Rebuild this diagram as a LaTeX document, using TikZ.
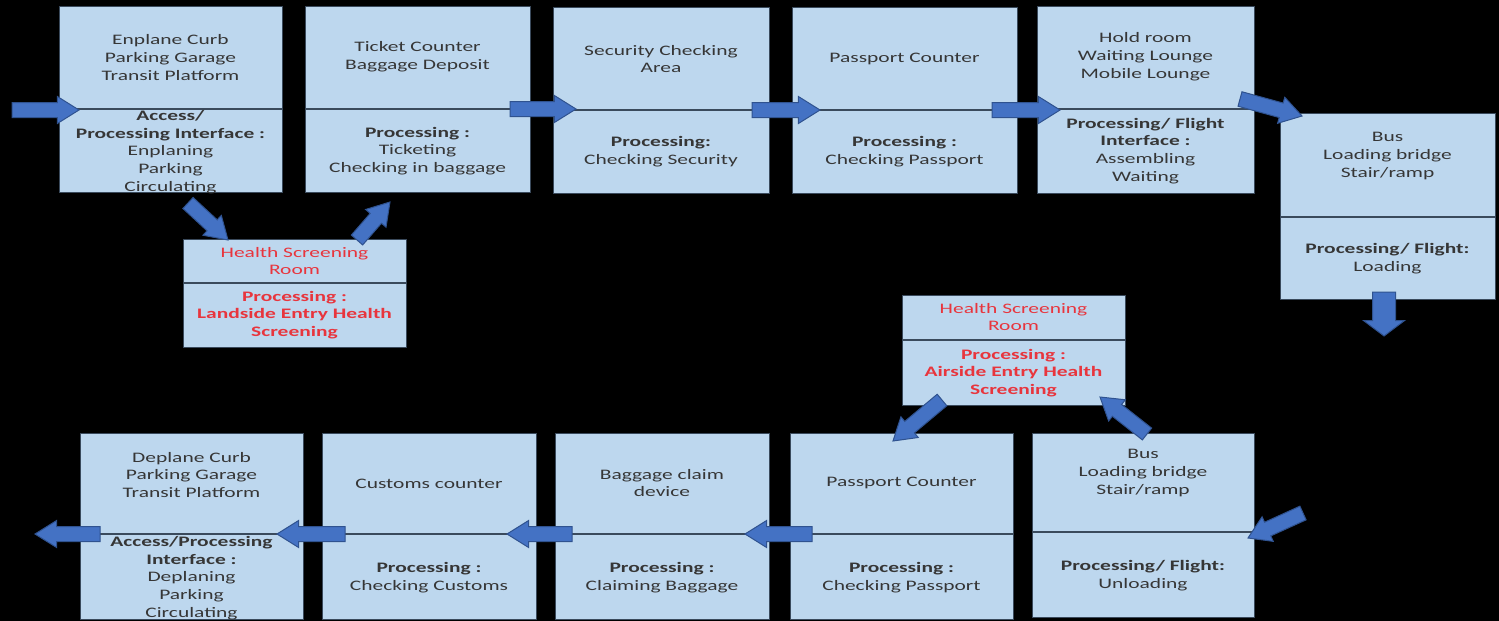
\documentclass[tikz,border=0pt]{standalone}
\usepackage{fontspec}
\setmainfont{Carlito}[FakeStretch=1.48]
\usetikzlibrary{shapes.arrows,calc}
\definecolor{boxfill}{HTML}{BDD7EE}
\definecolor{boxedge}{HTML}{3A4A5C}
\definecolor{txtgray}{HTML}{363636}
\definecolor{txtred}{HTML}{E8353D}
\definecolor{arrfill}{HTML}{4472C4}
\definecolor{arredge}{HTML}{2F528F}
\newcommand\B[1]{\textbf{#1}}
\newcommand\blockarrow[3][]{%
  \path let \p1=(#2), \p2=(#3), \n1={atan2(\y2-\y1,\x2-\x1)}, \n2={veclen(\x2-\x1,\y2-\y1)} in
    node[barrow, #1, minimum height=\n2, rotate=\n1, anchor=tip] at (\p2) {};}
\newcommand\procbox[6]{% name, x1, y1, x2, y2, divider y
  \node[procrect, minimum width={#4-#2}, minimum height={#5-#3}, anchor=north west] (#1) at (#2,#3) {};
  \draw[divline] (#2,#6) -- (#4,#6);}
\tikzset{
  procrect/.style={draw=boxedge, line width=1pt, fill=boxfill, inner sep=0pt, outer sep=0pt},
  divline/.style={draw=boxedge, line width=1.3pt},
  txt/.style={align=center, inner sep=0pt, text=txtgray, font=\fontsize{14.5}{17.8}\selectfont},
  redtxt/.style={txt, text=txtred},
  barrow/.style={single arrow, draw=arredge, line width=1pt, fill=arrfill, inner xsep=0pt,
    inner ysep=7pt, outer sep=0pt, minimum width=0pt, single arrow head extend=6pt, single arrow tip angle=64},
  bigarrow/.style={inner ysep=11pt, single arrow head extend=9pt, single arrow tip angle=106}
}
\begin{document}
\begin{tikzpicture}[x=1pt,y=-1pt]
\useasboundingbox (0,0) rectangle (1499,621);
\fill[black] (0,0) rectangle (1499,621);
% top row
\procbox{b1}{59}{6}{282}{192}{109}
\procbox{b2}{305}{6}{530}{192}{109}
\procbox{b3}{553}{7}{769}{193}{110}
\procbox{b4}{792}{7}{1017}{193}{110}
\procbox{b5}{1037}{6}{1254}{193}{109}
\procbox{b6}{1280}{113}{1495}{299}{217}
\procbox{h1}{183}{239}{406}{347}{283}
\procbox{h2}{902}{295}{1125}{405}{340}
% bottom row
\procbox{d1}{80}{433}{303}{619}{534}
\procbox{d2}{322}{433}{536}{619}{534}
\procbox{d3}{555}{433}{769}{619}{534}
\procbox{d4}{790}{433}{1013}{619}{534}
\procbox{d5}{1032}{433}{1254}{617}{532}
% texts
\node[txt] (b1t) at (170.5,57.5) {Enplane Curb\\Parking Garage\\Transit Platform};
\node[txt] (b1b) at (170.5,152) {\B{Access/}\\\B{Processing Interface :}\\Enplaning\\Parking\\Circulating};
\node[txt] (b2t) at (417.5,57) {Ticket Counter\\Baggage Deposit};
\node[txt] (b2b) at (417.5,151) {\B{Processing :}\\Ticketing\\Checking in baggage};
\node[txt] (b3t) at (661,59) {Security Checking\\Area};
\node[txt] (b3b) at (661,152) {\B{Processing:}\\Checking Security};
\node[txt] (b4t) at (904.5,59) {Passport Counter};
\node[txt] (b4b) at (904.5,152) {\B{Processing :}\\Checking Passport};
\node[txt] (b5t) at (1145.5,57) {Hold room\\Waiting Lounge\\Mobile Lounge};
\node[txt] (b5b) at (1145.5,151) {\B{Processing/ Flight}\\\B{Interface :}\\Assembling\\Waiting};
\node[txt] (b6t) at (1387.5,156) {Bus\\Loading bridge\\Stair/ramp};
\node[txt] (b6b) at (1387.5,259) {\B{Processing/ Flight:}\\Loading};
\node[redtxt] (h1t) at (294.5,261) {Health Screening\\Room};
\node[redtxt] (h1b) at (294.5,315) {\B{Processing :}\\\B{Landside Entry Health}\\\B{Screening}};
\node[redtxt] (h2t) at (1013.5,317) {Health Screening\\Room};
\node[redtxt] (h2b) at (1013.5,373) {\B{Processing :}\\\B{Airside Entry Health}\\\B{Screening}};
\node[txt] (d1t) at (191.5,475) {Deplane Curb\\Parking Garage\\Transit Platform};
\node[txt] (d1b) at (191.5,578) {\B{Access/Processing}\\\B{Interface :}\\Deplaning\\Parking\\Circulating};
\node[txt] (d2t) at (429,484) {Customs counter};
\node[txt] (d2b) at (429,578) {\B{Processing :}\\Checking Customs};
\node[txt] (d3t) at (662,483) {Baggage claim\\device};
\node[txt] (d3b) at (662,578) {\B{Processing :}\\Claiming Baggage};
\node[txt] (d4t) at (901.5,483) {Passport Counter};
\node[txt] (d4b) at (901.5,578) {\B{Processing :}\\Checking Passport};
\node[txt] (d5t) at (1143,473) {Bus\\Loading bridge\\Stair/ramp};
\node[txt] (d5b) at (1143,576) {\B{Processing/ Flight:}\\Unloading};
% arrow end points
\coordinate (a1s) at (12,110);   \coordinate (a1e) at (79,110);
\coordinate (a2s) at (188,203);  \coordinate (a2e) at (228,240);
\coordinate (a3s) at (357,240);  \coordinate (a3e) at (390,202);
\coordinate (a4s) at (510,109);  \coordinate (a4e) at (576,109);
\coordinate (a5s) at (752,110);  \coordinate (a5e) at (820,110);
\coordinate (a6s) at (992,110);  \coordinate (a6e) at (1060,110);
\coordinate (a7s) at (1240,99);  \coordinate (a7e) at (1302,116);
\coordinate (a8s) at (1384,292); \coordinate (a8e) at (1384,336);
\coordinate (a9s) at (1303,513); \coordinate (a9e) at (1248,538);
\coordinate (a10s) at (1147,434); \coordinate (a10e) at (1100,397);
\coordinate (a11s) at (942,400);  \coordinate (a11e) at (893,441);
\coordinate (a12s) at (812,534);  \coordinate (a12e) at (745,534);
\coordinate (a13s) at (572,534);  \coordinate (a13e) at (507,534);
\coordinate (a14s) at (345,534);  \coordinate (a14e) at (277,534);
\coordinate (a15s) at (100,534);  \coordinate (a15e) at (35,534);
\blockarrow{a1s}{a1e}
\blockarrow{a2s}{a2e}
\blockarrow{a3s}{a3e}
\blockarrow{a4s}{a4e}
\blockarrow{a5s}{a5e}
\blockarrow{a6s}{a6e}
\blockarrow{a7s}{a7e}
\blockarrow[bigarrow]{a8s}{a8e}
\blockarrow{a9s}{a9e}
\blockarrow{a10s}{a10e}
\blockarrow{a11s}{a11e}
\blockarrow{a12s}{a12e}
\blockarrow{a13s}{a13e}
\blockarrow{a14s}{a14e}
\blockarrow{a15s}{a15e}
\end{tikzpicture}
\end{document}
